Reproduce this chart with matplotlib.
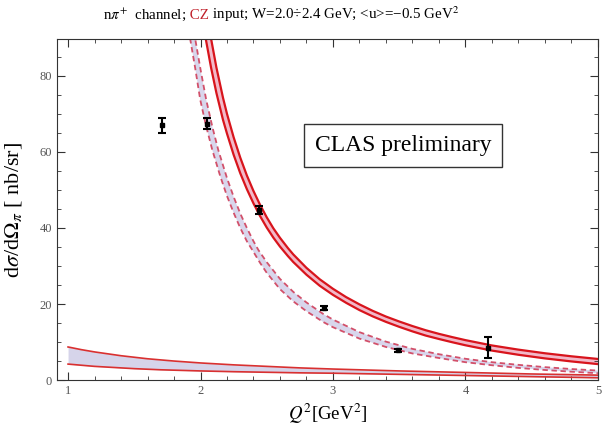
import numpy as np
import matplotlib.pyplot as plt
from matplotlib.ticker import MultipleLocator

plt.rcParams['font.family'] = ['Liberation Serif', 'DejaVu Serif']
plt.rcParams['mathtext.fontset'] = 'stix'

# data points (Q^2, dsigma/dOmega, error)
q2_data = [1.71, 2.05, 2.44, 2.93, 3.49, 4.17]
xs_data = [67.0, 67.4, 44.7, 18.9, 7.9, 8.5]
err_data = [2.0, 1.5, 1.0, 0.5, 0.4, 2.8]

# upper solid band: outer (upper) edge
sol_x = [2.04, 2.08, 2.12, 2.17, 2.20, 2.25, 2.30, 2.35, 2.40, 2.45, 2.50, 2.55,
         2.60, 2.66, 2.70, 2.80, 2.90, 3.0, 3.1, 3.2, 3.3, 3.4, 3.5, 3.6, 3.7,
         3.8, 3.9, 4.0, 4.2, 4.4, 4.6, 4.8, 5.0]
sol_hi_y = [98.3, 89.7, 82.2, 74.2, 70.0, 63.85, 58.5, 53.8, 49.7, 46.05, 42.8, 39.9,
            37.4, 34.7, 33.05, 29.5, 26.5, 24.0, 21.8, 19.9, 18.2, 16.7, 15.4, 14.2, 13.1,
            12.15, 11.3, 10.5, 9.1, 8.0, 7.05, 6.25, 5.55]
# upper solid band: inner (lower) edge
sol_lo_y = [89.65, 82.1, 75.5, 68.4, 64.8, 59.25, 54.4, 50.2, 46.45, 43.1, 40.1, 37.45,
            35.1, 32.6, 31.05, 27.7, 24.8, 22.4, 20.3, 18.4, 16.75, 15.3, 14.0, 12.8, 11.7,
            10.8, 9.95, 9.15, 7.75, 6.65, 5.7, 4.9, 4.2]

# dashed band: upper edge
dsh_hi_x = [1.94, 1.96, 2.00, 2.043, 2.09, 2.134, 2.20, 2.25, 2.30, 2.35, 2.40, 2.437,
            2.50, 2.60, 2.70, 2.80, 2.93, 3.0, 3.2, 3.4, 3.6, 3.8, 4.0, 4.2, 4.4, 4.6,
            4.8, 5.0]
dsh_hi_y = [94.0, 89.7, 81.7, 73.7, 66.5, 60.5, 53.1, 48.2, 43.8, 40.0, 36.5, 34.2,
            31.0, 26.6, 23.2, 20.4, 17.3, 15.9, 12.6, 10.1, 8.2, 6.8, 5.6, 4.7, 4.0, 3.4,
            2.9, 2.5]
# dashed band: lower edge
dsh_lo_x = [1.90, 1.922, 1.96, 1.998, 2.04, 2.089, 2.15, 2.20, 2.25, 2.30, 2.35, 2.391,
            2.45, 2.50, 2.60, 2.70, 2.80, 2.93, 3.0, 3.2, 3.4, 3.6, 3.8, 4.0, 4.2, 4.4,
            4.6, 4.8, 5.0]
dsh_lo_y = [94.6, 89.7, 82.0, 73.7, 67.1, 60.5, 53.5, 48.4, 44.0, 40.0, 36.5, 34.2,
            30.8, 28.2, 23.9, 20.7, 18.1, 15.2, 13.9, 10.9, 8.7, 7.0, 5.8, 4.7, 3.9, 3.2,
            2.65, 2.2, 1.8]

# bottom band
bot_x = [1.0, 1.1, 1.2, 1.3, 1.4, 1.5, 1.6, 1.7, 1.8, 1.9, 2.0, 2.25, 2.5, 2.75,
         3.0, 3.5, 4.0, 4.5, 5.0]
bot_hi_y = [8.7, 8.0, 7.4, 6.9, 6.4, 6.0, 5.6, 5.3, 5.0, 4.75, 4.5, 4.0, 3.6, 3.2,
            2.9, 2.4, 2.0, 1.6, 1.3]
bot_lo_y = [4.2, 3.9, 3.6, 3.4, 3.2, 3.0, 2.85, 2.7, 2.6, 2.5, 2.4, 2.2, 2.05, 1.9,
            1.8, 1.5, 1.2, 0.9, 0.6]

fig = plt.figure(figsize=(6.07, 4.28), dpi=100)
ax = fig.add_axes([0.094, 0.112, 0.891, 0.797])

# bottom band
ax.fill_between(bot_x, bot_lo_y, bot_hi_y, color='#d6d4ea', lw=0)
ax.plot(bot_x, bot_hi_y, color='#d93030', lw=1.2)
ax.plot(bot_x, bot_lo_y, color='#d93030', lw=1.2)

# dashed band
ax.fill(np.concatenate([dsh_hi_x, dsh_lo_x[::-1]]),
        np.concatenate([dsh_hi_y, dsh_lo_y[::-1]]), color='#d8d6ec', lw=0)
ax.plot(dsh_hi_x, dsh_hi_y, color='#d2506a', lw=1.3, ls=(0, (3, 2)))
ax.plot(dsh_lo_x, dsh_lo_y, color='#d2506a', lw=1.3, ls=(0, (3, 2)))

# solid band
ax.fill_between(sol_x, sol_lo_y, sol_hi_y, color='#f2b8c8', lw=0)
ax.plot(sol_x, sol_hi_y, color='#d8141c', lw=1.6)
ax.plot(sol_x, sol_lo_y, color='#d8141c', lw=1.6)

# data
ax.errorbar(q2_data, xs_data, yerr=err_data, fmt='s', color='black', ms=3.5,
            elinewidth=1.5, capsize=3, capthick=1.5, zorder=5)

ax.text(3.53, 61.7, 'CLAS preliminary', fontsize=17, ha='center', va='center',
        bbox=dict(boxstyle='square,pad=0.45', fc='white', ec='#333333', lw=1))

ax.set_xlim(0.917, 5.0)
ax.set_ylim(0, 89.7)
ax.xaxis.set_major_locator(MultipleLocator(1))
ax.xaxis.set_minor_locator(MultipleLocator(0.2))
ax.yaxis.set_major_locator(MultipleLocator(20))
ax.yaxis.set_minor_locator(MultipleLocator(5))
ax.tick_params(which='both', direction='in', top=True, right=True,
               labelsize=9, labelcolor='#555555', color='#333333')
ax.tick_params(which='major', length=6)
ax.tick_params(which='minor', length=3)
for s in ax.spines.values():
    s.set_color('#333333')

ax.set_xlabel(r'$Q^2$[GeV$^2$]', fontsize=13.5)
ax.xaxis.set_label_coords(0.5, -0.062)
ax.set_ylabel(r'd$\sigma$/d$\Omega_\pi$ [ nb/sr]', fontsize=16)
ax.yaxis.set_label_coords(-0.062, 0.5)

# title in pieces (CZ in red)
t1 = fig.text(0.17, 0.955, r'n$\pi^{+}$  channel;', fontsize=10.8, va='baseline')
t2 = fig.text(0, 0, ' CZ', fontsize=10.8, color='#c0202a', va='baseline')
fig.canvas.draw()
r = fig.canvas.get_renderer()
bb = t1.get_window_extent(r).transformed(fig.transFigure.inverted())
t2.set_position((bb.x1, 0.955))
fig.canvas.draw()
bb2 = t2.get_window_extent(r).transformed(fig.transFigure.inverted())
fig.text(bb2.x1, 0.955, r' input; W=2.0÷2.4 GeV; <u>=−0.5 GeV$^2$', fontsize=10.8,
         va='baseline')

fig.savefig('out.png', dpi=100)
